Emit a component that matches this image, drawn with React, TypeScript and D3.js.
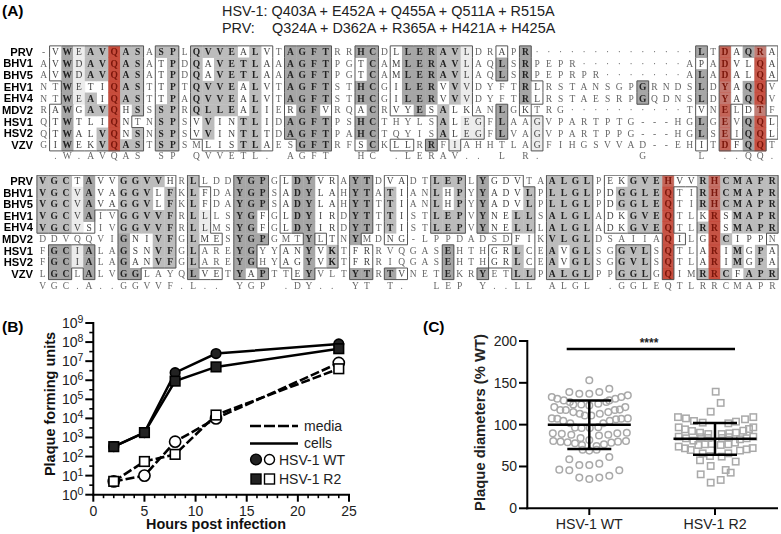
import * as d3 from "d3";

const sans = "'Liberation Sans', Arial, sans-serif";
const serif = "'Liberation Serif', 'Times New Roman', serif";

// (A) alignment, written in groups of ten columns.
// Mask letters: . outside box, w boxed white, l boxed light, g boxed grey, d boxed dark
const strains = ["PRV", "BHV1", "BHV5", "EHV1", "EHV4", "MDV2", "HSV1", "HSV2", "VZV"];

const seqTop = [
  "-VWEAVQASA SPLQVVEALV TAGFTRRHCD LLERAVLDRA PR........ ......LTDA QRA",
  "AVWDAVQASA TPDQAVETLA AAGFTPGTCA MLERAVLAQL SRPEPR.... .....APADV LQA",
  "AVWDAVQASA TPDQAVETLA AAGFTPGTCA MLERAVLAQL SRPEPRPR.. .....ALADA LQA",
  "NTWETIQAST TPTQVVEALV TAGFTSTHCG ILERVVVDYF TRLRSTANSG PGRNDSLDYA QQV",
  "NTWEAIQAST TPAQVVEALV TAGFTSTHCG ILERVVVDYF TRLRSTAESR PGQDNSLDYA QQV",
  "RAWGAVQHSS SPRQLLEALI ERGFVRQACR VYESALKANL GKTRG..... .....TVNEL DTF",
  "QTWTLIQNTN SPSVVINTLI DAGFTPSHCT HYLSALEGFL AAGVPARTPT G---HGLGEV QQL",
  "QTWALVQNSN SPSVVINTLT DAGFTPAHCT QYISALEGFL VAGVPARTPP G---HGLSEI QQL",
  "GIWEKVQAST SPSMLISTLA ESGFTRFSCK LLRRFIAHHT LAGFIHGSVV AD--EHITDF QQT",
];
const maskTop = [
  ".wdlggggg. gg.ggggwgw .dddd..dd. wdddggl..w .d........ ......d.gw dgw",
  ".wdlggggg. wg.gwggggw .dddd..wd. wdddggl..d .d........ ......w.gw wgw",
  ".wdlggggg. wg.gwggggw .dddd..wd. wdddggl..d .d........ ......d.gw wgw",
  "..dlwwggg. wg.ggggwgw .dddd..dd. wdddwgl... .dw....... .d....d.gw dg.",
  "..dlgwggg. wg.ggggwgw .dddd..dd. wdddwgl... .dw....... .d....d.gw dg.",
  ".wdwgggwg. gg.ggggwgw .wddw..wd. wwdwgww..d .w........ ......w.g. wg.",
  ".wdwwwgw.. gg.wgwwggw .dddd..dd. ....gwll.d ..l....... ......d.g. dgw",
  ".wdwwggwg. gg.wgwwggw .dddd..dd. ....gwll.d ..l....... ......d.g. dgw",
  ".wdwwgggg. gg..wwwggw ..ddd..wd. ww.d.l.... ..l....... ......w.gw dg.",
];
const consensusTop = " .W.AVQAS SP QVVETL. AGFT  HC .LERAV.. L R.        G    L ..QQ.";

const seqBottom = [
  "VGCTAVVGGV VHRLLDDYGP GLDYVRAYTD VADTLEPLYG DVTAALGLPE KGVEHVVRHC MAPR",
  "VGCVAVAGGV LFKLFDAYGP SADYLAHYTA TIANLHPYYA DVLPLLGLPD GGLEQTIRHC MAPR",
  "VGCVAVAGGV LFKLFDAYGP SADYLAHYTT TIANLHPYYA DVLPLLGLPD GGLEQTIRHC MAPR",
  "VGCVAIVGGV VFRLLLSYGF GLDYIRDYTT TISTLEPVYN ELLSALGLAD KGVEQTLKRS MAPR",
  "VGCVSIVGGV VFRLLMSYGF GLDYIRDYTT TISTLEPVYN ELLLALGLAD KGVEQTLRRS MAPR",
  "DDVQQVIGNI VFGLMESYGP GMTYLTNYMD NG-LPPDADS DFIKVLGLDS AIIAQILGRC IPPN",
  "FGCIALAGSN VFGLAREYGY YANYVKTFRR VQGASEHTHG RLCEAVGLSG GVLSQTLARI MGPA",
  "FGCIALAGAN VFGLAREYGH YAGYVKTFRR IQGASEHTHG RLCEAVGLSG GVLSQTLARI MGPA",
  "LGCLALVGGL AYQLVETYAP TTEYVLTYTR TVNETEKRYE TLLPALGLPP GGLGQIMRRC FAPR",
];
const maskBottom = [
  "gggwdwwggg gw.g...ddd .wddww.dd. ww..ggg.dw ww..gggg.w wggggwwggg gggg",
  "gggldwwggg wg.gw..ddd .wddww.dd. gw..gwg.dw wwg.gggg.w ggggg..ggg gggg",
  "gggldwwggg wg.gw..ddd .wddww.dd. gw..gwg.dw wwg.gggg.w ggggg..ggg gggg",
  "gggld..ggg gg.gl..ddw .wddww.dd. gw..ggg.dw wgg.gggg.w wgggg..wgw gggg",
  "ggglw..ggg gg.gl..ddw .wddww.dd. gw..ggg.dw wgg.gggg.w wgggg..ggw gggg",
  ".......dww gg.gww.ddd ...d.w.d.. ww........ .ww.gggg.. ....gw.wgg www.",
  ".ddld..dww gg.g...dd. .wwdwg.ww. .....d...w wgw.gwgg.. ggg.g..wgw gwgw",
  ".ddld..dww gg.g...dd. .wwdwg.ww. .....d...w wgw.gwgg.. ggg.g..wgw gwgw",
  ".dd.d..dd. ...dww.dwd ..wd...dd. dw...d..d. .gg.gggg.. ggg.g..ggg wggg",
];
const consensusBottom = "VGC.A..GGVVF.L.. YGP .DY.. YT T.  LEP Y..LL ALGL .GGLEQTLRRCMAPR";

// highlighted columns: column number, then how strong the red is for each strain
const redTop: [number, number[]][] = [
  [6, [0.9, 0.9, 0.9, 0.9, 0.9, 0.9, 0.9, 0.9, 0.9]],
  [58, [0.7, 0.7, 0.7, 0.55, 0.55, 0.7, 0.55, 0.55, 0.7]],
  [61, [0.5, 0.8, 0.8, 0.85, 0.85, 0.5, 0.8, 0.8, 0.9]],
];
const redBottom: [number, number[]][] = [
  [54, [0.7, 0.85, 0.85, 0.85, 0.85, 0.85, 0.85, 0.85, 0.9]],
  [58, [0.6, 0.6, 0.6, 0.85, 0.85, 0.85, 0.85, 0.85, 0.9]],
];

const headerHsv = "HSV-1: Q403A + E452A + Q455A + Q511A + R515A";
const headerPrvName = "PRV:";
const headerPrv = "Q324A + D362A + R365A + H421A + H425A";

// (B) growth curves
const hours = [2, 5, 8, 12, 24];
const wtCells = [330, 1800, 2.5e6, 2.5e7, 8e7];
const r2Cells = [330, 1800, 9e5, 5e6, 4.5e7];
const wtMedia = [5, 10, 600, 1e4, 8e6];
const r2Media = [5, 55, 130, 1.5e4, 4e6];
const decades = [0, 1, 2, 3, 4, 5, 6, 7, 8, 9];
const hourTicks = [0, 5, 10, 15, 20, 25];

// (C) plaque diameters: [% WT, swarm slot]
const wtPlaques: [number, number][] = [
  [153, 0], [139, -2], [137, -1], [137, 0], [139, 1], [143, 2],
  [133, -3.75], [131, -3.2], [129, -2.55], [127, -1.95], [124, -1.6], [124, -0.8], [123, 0], [125, 0.9], [127, 1.7],
  [135, 3.85], [133, 3.2], [131, 2.6], [129, 2],
  [121, -3.5], [117.5, -2.9], [117.5, -2.35], [115, -1.6], [113, -0.95], [111, -0.45], [111, 0.2], [113, 1.05], [115, 1.9], [117.5, 2.55], [118, 3.05], [121, 3.6],
  [107.5, -3.75], [107, -3.2], [104.5, -2.6], [101.6, -1.9], [107.5, 3.85], [107, 3.2], [106.5, 2.67], [104.5, 2.05], [101.6, 1.4],
  [96.5, -1.43], [96, -0.77], [96, 0.05], [97, 0.9],
  [89.6, -3.65], [89, -2.75], [88, -1.8], [84, -0.87], [81.7, 0], [87, 0.97], [88, 1.9], [89.6, 2.8], [90.4, 3.75],
  [80.5, -3.6], [79.7, -2.87], [79, -2.17], [77.7, -1.43], [75.7, -0.73], [74.5, 0.73], [76.5, 1.47], [78.5, 2.2], [79.7, 2.87], [80.5, 3.67],
  [70, -0.67], [69, 0], [70, 0.73],
  [58.6, -2], [61.4, 2], [51.8, -1], [51.8, 0], [53.4, 1],
  [46.2, -3], [45.4, -2], [45.4, 3],
  [36.7, -1], [35, 0], [36.7, 1], [39, 2],
];
const r2Plaques: [number, number][] = [
  [139.4, 0.07], [126, 0.57], [115.5, -0.43],
  [109, -3.7], [107.5, -2.9], [104.4, -2.1], [102.4, -1.23], [101.6, 1.33], [103.6, 2.1], [106.4, 3], [109, 3.83],
  [96.8, -3.63], [94.4, -3], [92.4, -2.3], [90.4, -1.5], [88.8, -0.67], [88.8, 0.67], [89.6, 1.43], [90.4, 2.1], [92.8, 2.83], [94.8, 3.4], [96.8, 3.83],
  [85.6, -3.63], [83.7, -2.9], [80.9, -2.17], [85.6, 3.83], [83.7, 3.17], [82.5, 2.5], [85, -1.4], [84, -0.7], [84, 0.7], [85, 1.4],
  [73.7, -3.63], [71.7, -3], [69.7, -2.43], [75.7, -1.67], [76.5, -1], [76.9, -0.33], [75.7, 0.57], [76.5, 1.33], [78.5, 2], [69, 2.5], [70.5, 3.17], [72, 3.77],
  [65.7, -1.23], [62.5, -0.5], [61.8, 0.67], [65.7, 1.33],
  [57.4, -1.5], [55.8, 2.07], [50.6, -0.43], [45.8, 1.07], [42.6, 1.57], [40.6, -1.43], [33.9, 0.57], [30.7, -0.43],
];
const groups = ["HSV-1 WT", "HSV-1 R2"];
const wtStats = { mean: 100, low: 71, high: 129 };
const r2Stats = { mean: 83, low: 64, high: 102 };
const plaqueTicks = [0, 50, 100, 150, 200];

const shade: Record<string, string> = { l: "#ececec", g: "#bcbcbc", d: "#a6a6a6" };
const squeeze = (rows: string[]) => rows.map((r) => r.replace(/ /g, ""));

const Alignment = ({ seqs, masks, red, consensus, x, yTop, yStep, consensusY }: any) => {
  const rows = squeeze(seqs);
  const cells = squeeze(masks);
  const n = rows[0].length;
  const colX = d3.scaleLinear().domain([0, n - 1]).range(x);
  const rowY = d3.scaleLinear().domain([0, 8]).range([yTop, yTop + 8 * yStep]);
  const dx = colX(1) - colX(0);
  const inBox = (r: number, c: number) => {
    const m = cells[r] && cells[r][c];
    return !!m && m !== ".";
  };
  let outline = "";
  rows.forEach((_: string, r: number) => {
    for (let c = 0; c < n; c++) {
      if (!inBox(r, c)) continue;
      const l = colX(c) - dx / 2;
      const t = rowY(r) - yStep / 2;
      const rr = l + dx;
      const b = t + yStep;
      if (!inBox(r - 1, c)) outline += `M${l},${t}H${rr}`;
      if (!inBox(r + 1, c)) outline += `M${l},${b}H${rr}`;
      if (!inBox(r, c - 1)) outline += `M${l},${t}V${b}`;
      if (!inBox(r, c + 1)) outline += `M${rr},${t}V${b}`;
    }
  });
  return (
    <g filter="url(#soft)">
      {rows.map((s: string, r: number) =>
        s.split("").map((_, c) =>
          shade[cells[r][c]] ? (
            <rect key={`${r}-${c}`} x={colX(c) - dx / 2} y={rowY(r) - yStep / 2} width={dx + 0.4} height={yStep + 0.4} fill={shade[cells[r][c]]} />
          ) : null
        )
      )}
      {red.map(([col, levels]: [number, number[]]) =>
        levels.map((lv, r) => (
          <rect key={`${col}-${r}`} x={colX(col) - dx / 2} y={rowY(r) - yStep / 2} width={dx} height={yStep + 0.4} fill="#c8402f" opacity={lv} />
        ))
      )}
      <path d={outline} fill="none" stroke="#555" strokeWidth={1} />
      {rows.map((s: string, r: number) =>
        s.split("").map((ch, c) => {
          const m = cells[r][c];
          const isRed = red.some(([col]: [number]) => col === c);
          const strong = m === "g" || m === "d";
          return (
            <text key={c} x={colX(c)} y={rowY(r) + 3.2} textAnchor="middle" fontFamily={serif} fontSize={9.5}
              fontWeight={strong ? 700 : 400} fill={isRed ? "#7a1408" : strong ? "#222" : m === "w" || m === "l" ? "#444" : "#666"}>
              {ch === "." ? "·" : ch}
            </text>
          );
        })
      )}
      {consensus.split("").map((ch: string, c: number) => (
        <text key={c} x={colX(c)} y={consensusY} textAnchor="middle" fontFamily={serif} fontSize={9.5} fill="#666">{ch}</text>
      ))}
      {strains.map((st, r) => (
        <text key={st} x={33} y={rowY(r) + 4} textAnchor="end" fontFamily={sans} fontWeight={700} fontSize={11.2} fill="#000">{st}</text>
      ))}
    </g>
  );
};

const GrowthPanel = () => {
  const x = d3.scaleLinear().domain([0, 25]).range([93.3, 349]);
  const y = d3.scaleLog().domain([1, 1e9]).range([494.7, 323]);
  const line = d3.line<number>().x((_, i) => x(hours[i])).y((d) => y(d));
  const circle = (vals: number[], fill: string) =>
    vals.map((v, i) => <circle key={i} cx={x(hours[i])} cy={y(v)} r={fill === "#fff" ? 5.6 : 4.8} fill={fill} stroke="#000" strokeWidth={1.6} />);
  const square = (vals: number[], fill: string) =>
    vals.map((v, i) => <rect key={i} x={x(hours[i]) - 4.8} y={y(v) - 4.8} width={9.6} height={9.6} fill={fill} stroke="#000" strokeWidth={1.6} />);
  return (
    <g>
      <path d={line(wtMedia)!} fill="none" stroke="#000" strokeWidth={2.6} strokeDasharray="9 3" />
      <path d={line(r2Media)!} fill="none" stroke="#000" strokeWidth={2.6} strokeDasharray="9 3" />
      {circle(wtMedia, "#fff")}
      {square(r2Media, "#fff")}
      <path d={line(wtCells)!} fill="none" stroke="#000" strokeWidth={2.5} />
      <path d={line(r2Cells)!} fill="none" stroke="#000" strokeWidth={2.5} />
      {circle(wtCells, "#222")}
      {square(r2Cells, "#222")}

      <line x1={x(0)} x2={x(0)} y1={y(1e9) - 1} y2={y(1) + 1} stroke="#000" strokeWidth={2} />
      <line x1={x(0) - 1} x2={x(25) + 1} y1={y(1)} y2={y(1)} stroke="#000" strokeWidth={2} />
      {decades.map((d) => (
        <g key={d}>
          <line x1={x(0) - 8} x2={x(0)} y1={y(10 ** d)} y2={y(10 ** d)} stroke="#000" strokeWidth={2} />
          {d < 9 && <line x1={x(0) - 4} x2={x(0)} y1={y(10 ** (d + 0.5))} y2={y(10 ** (d + 0.5))} stroke="#000" strokeWidth={1.6} />}
          <text x={x(0) - 10} y={y(10 ** d) + 5} textAnchor="end" fontFamily={sans} fontSize={14} fill="#222">
            10<tspan dy={-5} fontSize={10.5}>{d}</tspan>
          </text>
        </g>
      ))}
      {d3.range(0, 26).map((h) => (
        <line key={h} x1={x(h)} x2={x(h)} y1={y(1)} y2={y(1) + (h % 5 === 0 ? 7 : 3.5)} stroke="#000" strokeWidth={h % 5 === 0 ? 2 : 1.6} />
      ))}
      {hourTicks.map((h) => (
        <text key={h} x={x(h)} y={516} textAnchor="middle" fontFamily={sans} fontSize={14} fill="#222">{h}</text>
      ))}
      <text x={216} y={529} textAnchor="middle" fontFamily={sans} fontWeight={700} fontSize={14.4} fill="#111">Hours post infection</text>
      <text transform="translate(55,404) rotate(-90)" textAnchor="middle" fontFamily={sans} fontWeight={700} fontSize={14.5} fill="#111">Plaque forming units</text>

      <line x1={250} x2={298} y1={426} y2={426} stroke="#000" strokeWidth={2.4} strokeDasharray="11 3" />
      <text x={304} y={431} fontFamily={sans} fontSize={14} fill="#222">media</text>
      <line x1={250} x2={298} y1={443.5} y2={443.5} stroke="#000" strokeWidth={2.4} />
      <text x={304} y={448} fontFamily={sans} fontSize={14} fill="#222">cells</text>
      <circle cx={256} cy={459.5} r={5.4} fill="#222" stroke="#000" strokeWidth={1.4} />
      <circle cx={269.5} cy={459.5} r={5} fill="#fff" stroke="#000" strokeWidth={1.4} />
      <text x={279} y={465} fontFamily={sans} fontSize={14} fill="#222">HSV-1 WT</text>
      <rect x={251} y={474} width={10} height={10} fill="#222" stroke="#000" strokeWidth={1.4} />
      <rect x={264.5} y={474} width={10} height={10} fill="#fff" stroke="#000" strokeWidth={1.4} />
      <text x={279} y={484} fontFamily={sans} fontSize={14} fill="#222">HSV-1 R2</text>
    </g>
  );
};

const PlaquePanel = () => {
  const y = d3.scaleLinear().domain([0, 200]).range([508.3, 341]);
  const x = d3.scalePoint<string>().domain(groups).range([589.3, 715]);
  const slot = d3.scaleLinear().domain([-1, 1]).range([-10, 10]);
  const wtX = x(groups[0])!;
  const r2X = x(groups[1])!;
  const stats = [
    { cx: wtX, s: wtStats },
    { cx: r2X, s: r2Stats },
  ];
  return (
    <g>
      {wtPlaques.map(([v, k], i) => (
        <circle key={i} cx={wtX + slot(k)} cy={y(v)} r={3.3} fill="none" stroke="#a9a9a9" strokeWidth={1.5} />
      ))}
      {r2Plaques.map(([v, k], i) => (
        <rect key={i} x={r2X + slot(k) - 3.2} y={y(v) - 3.2} width={6.4} height={6.4} fill="none" stroke="#a9a9a9" strokeWidth={1.5} />
      ))}
      {stats.map(({ cx, s }) => (
        <g key={cx} stroke="#000" strokeWidth={2.5}>
          <line x1={cx - 41.5} x2={cx + 41.5} y1={y(s.mean)} y2={y(s.mean)} />
          <line x1={cx} x2={cx} y1={y(s.low)} y2={y(s.high)} />
          <line x1={cx - 22} x2={cx + 22} y1={y(s.low)} y2={y(s.low)} />
          <line x1={cx - 22} x2={cx + 22} y1={y(s.high)} y2={y(s.high)} />
        </g>
      ))}
      <line x1={527.3} x2={527.3} y1={y(200) - 1} y2={y(0) + 1} stroke="#000" strokeWidth={2} />
      <line x1={526.3} x2={778} y1={y(0)} y2={y(0)} stroke="#000" strokeWidth={2} />
      {plaqueTicks.map((t) => (
        <g key={t}>
          <line x1={519} x2={527} y1={y(t)} y2={y(t)} stroke="#000" strokeWidth={2} />
          <text x={517} y={y(t) + 5} textAnchor="end" fontFamily={sans} fontSize={14} fill="#222">{t}</text>
        </g>
      ))}
      {groups.map((g) => (
        <g key={g}>
          <line x1={x(g)} x2={x(g)} y1={y(0)} y2={515} stroke="#000" strokeWidth={2} />
          <text x={x(g)} y={529} textAnchor="middle" fontFamily={sans} fontSize={14.2} fill="#222">{g}</text>
        </g>
      ))}
      <line x1={566.7} x2={735} y1={349} y2={349} stroke="#000" strokeWidth={2.5} />
      <text x={649} y={347} textAnchor="middle" fontFamily={sans} fontWeight={700} fontSize={12} fill="#222">****</text>
      <text transform="translate(485,422.5) rotate(-90)" textAnchor="middle" fontFamily={sans} fontWeight={700} fontSize={14.8} fill="#222">Plaque diameters (% WT)</text>
    </g>
  );
};

export default function App() {
  return (
    <svg width={781} height={534} style={{ position: "absolute", left: 0, top: 0, display: "block", background: "#fff" }}>
      <defs>
        <filter id="soft" x="0" y="0" width="100%" height="100%">
          <feGaussianBlur stdDeviation={0.3} />
        </filter>
      </defs>
      <text x={2} y={16} fontFamily={sans} fontWeight={700} fontSize={15.5}>(A)</text>
      <text x={2} y={332} fontFamily={sans} fontWeight={700} fontSize={15.5}>(B)</text>
      <text x={423} y={332} fontFamily={sans} fontWeight={700} fontSize={15.5}>(C)</text>
      <text x={222} y={16} fontFamily={sans} fontSize={14.4} fill="#222">{headerHsv}</text>
      <text x={222} y={33} fontFamily={sans} fontSize={14.4} fill="#222">{headerPrvName}</text>
      <text x={272} y={33} fontFamily={sans} fontSize={14.4} fill="#222">{headerPrv}</text>
      <Alignment seqs={seqTop} masks={maskTop} red={redTop} consensus={consensusTop} x={[43.7, 772]} yTop={51.7} yStep={11.67} consensusY={159} />
      <Alignment seqs={seqBottom} masks={maskBottom} red={redBottom} consensus={consensusBottom} x={[42.7, 772.3]} yTop={181} yStep={11.6} consensusY={289} />
      <GrowthPanel />
      <PlaquePanel />
    </svg>
  );
}
